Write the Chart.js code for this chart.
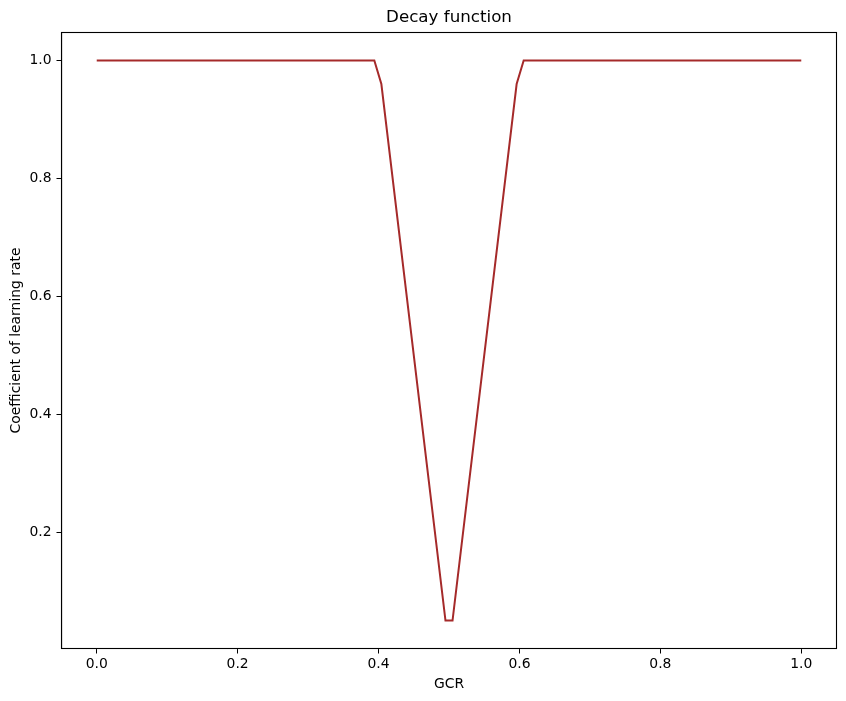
<!DOCTYPE html>
<html>
<head>
<meta charset="utf-8">
<script src="https://cdn.jsdelivr.net/npm/chart.js@4"></script>
<style>
  html, body { margin: 0; padding: 0; background: #fff; }
  #wrap { width: 846px; height: 701px; }
</style>
</head>
<body>
<div id="wrap"><canvas id="grafico" width="846" height="701"></canvas></div>
<script>
// vertices of the decay curve (GCR -> coefficient)
const gcr   = [0.0, 0.394, 0.404, 0.495, 0.505, 0.596, 0.606, 1.0];
const coef  = [1.0, 1.0,   0.96,  0.05,  0.05,  0.96,  1.0,   1.0];
const xTicks = [0.0, 0.2, 0.4, 0.6, 0.8, 1.0];
const yTicks = [0.2, 0.4, 0.6, 0.8, 1.0];

const FONTE = "'DejaVu Sans', sans-serif";

// moldura completa em volta da área do gráfico
const moldura = {
  id: "moldura",
  afterDraw(chart) {
    const { ctx, chartArea: a } = chart;
    ctx.save();
    ctx.strokeStyle = "#000";
    ctx.lineWidth = 1.1;
    ctx.strokeRect(a.left, a.top, a.right - a.left, a.bottom - a.top);
    ctx.restore();
  }
};

new Chart(document.getElementById("grafico"), {
  type: "scatter",
  data: {
    datasets: [{
      data: gcr.map((x, i) => ({ x, y: coef[i] })),
      showLine: true,
      borderColor: "#a52a2a",
      borderWidth: 2,
      pointRadius: 0,
      tension: 0
    }]
  },
  options: {
    responsive: false,
    animation: false,
    layout: { padding: { left: 0, right: 9.5, top: 0, bottom: 0 } },
    plugins: {
      legend: { display: false },
      tooltip: { enabled: false },
      title: { display: false }
    },
    scales: {
      // eixo de cima só para o título, centralizado sobre a área do gráfico
      topo: {
        type: "linear",
        position: "top",
        min: -0.05,
        max: 1.05,
        afterFit: s => { s.height = 32.5; },
        grid: { display: false },
        border: { display: false },
        ticks: { display: false },
        title: {
          display: true, text: "Decay function", color: "#000",
          font: { family: FONTE, size: 16.7 },
          padding: { top: 8, bottom: 0 }
        }
      },
      x: {
        type: "linear",
        min: -0.05,
        max: 1.05,
        afterBuildTicks: s => { s.ticks = xTicks.map(v => ({ value: v })); },
        afterFit: s => { s.height = 52.5; },
        grid: { drawOnChartArea: false, drawTicks: true, tickLength: 5, tickColor: "#000", tickWidth: 1 },
        border: { display: true, color: "#000", width: 1.1 },
        ticks: {
          color: "#000", padding: 3, maxRotation: 0,
          font: { family: FONTE, size: 13.9 },
          callback: v => v.toFixed(1)
        },
        title: {
          display: true, text: "GCR", color: "#000",
          font: { family: FONTE, size: 13.9 },
          padding: { top: 0, bottom: 8.7 }
        }
      },
      y: {
        type: "linear",
        min: 0.0025,
        max: 1.0475,
        afterBuildTicks: s => { s.ticks = yTicks.map(v => ({ value: v })); },
        afterFit: s => { s.width = 61.5; },
        grid: { drawOnChartArea: false, drawTicks: true, tickLength: 5, tickColor: "#000", tickWidth: 1 },
        border: { display: true, color: "#000", width: 1.1 },
        ticks: {
          color: "#000", padding: 5,
          font: { family: FONTE, size: 13.9 },
          callback: v => v.toFixed(1)
        },
        title: {
          display: true, text: "Coefficient of learning rate", color: "#000",
          font: { family: FONTE, size: 13.9 },
          padding: { top: 7.7, bottom: 0 }
        }
      }
    }
  },
  plugins: [moldura]
});
</script>
</body>
</html>
